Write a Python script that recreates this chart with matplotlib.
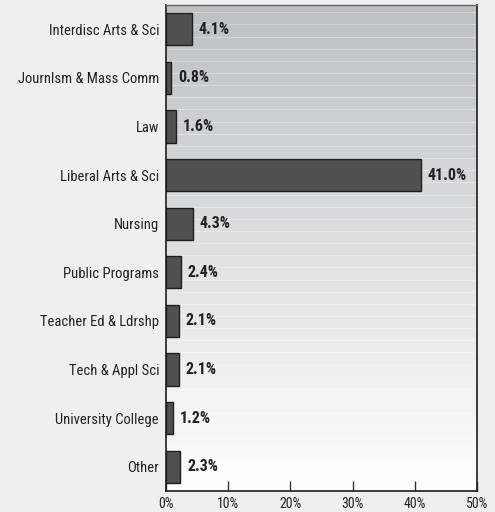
import matplotlib
matplotlib.use("Agg")
import matplotlib.pyplot as plt
import numpy as np
from matplotlib import font_manager
from matplotlib.font_manager import FontProperties
from matplotlib.colors import LinearSegmentedColormap

categories = ["Interdisc Arts & Sci", "Journlsm & Mass Comm", "Law", "Liberal Arts & Sci",
              "Nursing", "Public Programs", "Teacher Ed & Ldrshp", "Tech & Appl Sci",
              "University College", "Other"]
values = [4.1, 0.8, 1.6, 41.0, 4.3, 2.4, 2.1, 2.1, 1.2, 2.3]
xticks = [0, 10, 20, 30, 40, 50]
xticklabels = ["0%", "10%", "20%", "30%", "40%", "50%"]


def find_condensed(bold):
    cands = []
    for f in font_manager.fontManager.ttflist:
        nm = f.name.lower()
        fn = f.fname.lower()
        narrow = ("narrow" in nm or "condensed" in nm or "condensed" in fn or "narrow" in fn
                  or f.stretch in ("condensed", "semi-condensed"))
        if not narrow or "mono" in nm or "serif" in nm and "sans" not in nm:
            continue
        if "italic" in fn or "oblique" in fn or f.style != "normal":
            continue
        w = f.weight if isinstance(f.weight, int) else (700 if "bold" in str(f.weight) else 400)
        if bold != (w >= 600):
            continue
        if "light" in fn or "thin" in fn or "black" in fn or "extra" in fn or "semi" in fn or "medium" in fn:
            continue
        pri = 3
        if "liberation" in nm or "arial" in nm or "helvet" in nm:
            pri = 0
        elif "roboto" in nm:
            pri = 1
        elif "dejavu" in nm:
            pri = 2
        cands.append((pri, f.fname))
    cands.sort()
    return cands[0][1] if cands else None


reg = find_condensed(False)
bld = find_condensed(True)
if reg:
    fp_reg = FontProperties(fname=reg, size=10.5)
    fp_tick = FontProperties(fname=reg, size=10)
else:
    fp_reg = FontProperties(family="Liberation Sans", size=9.2)
    fp_tick = FontProperties(family="Liberation Sans", size=9)
if bld:
    fp_bold = FontProperties(fname=bld, size=11.5)
else:
    fp_bold = FontProperties(family="Liberation Sans", weight="bold", size=10)

fig = plt.figure(figsize=(4.95, 5.12), dpi=100, facecolor="#efefef")
ax = fig.add_axes([166/495, 1-491/512, (477-166)/495, (491-5)/512])

n = len(categories)
ax.set_xlim(0, 50)
ax.set_ylim(n - 0.5, -0.5)

grad = np.linspace(0, 1, 256).reshape(-1, 1)
cmap = LinearSegmentedColormap.from_list("bg", ["#bfc0c2", "#ffffff"])
ax.imshow(grad, aspect="auto", cmap=cmap, extent=[0, 50, n - 0.5, -0.5], zorder=0)
for y in np.arange(-0.5 + 0.15, n - 0.5, 0.25):
    ax.axhline(y, color="white", lw=0.8, alpha=0.3, zorder=1)

ypos = np.arange(n)
ax.barh(ypos, values, height=0.66, color="#505050", edgecolor="#1e1e1e", linewidth=1.0, zorder=3)
for y, v in zip(ypos, values):
    ax.text(v + 1.1, y, f"{v:.1f}%", va="center", ha="left", fontproperties=fp_bold,
            color="#222222", zorder=4)

ax.set_yticks(ypos)
ax.set_yticklabels(categories, fontproperties=fp_reg, color="#222222")
ax.tick_params(axis="y", length=0, pad=5)
ax.set_xticks(xticks)
ax.set_xticklabels(xticklabels, fontproperties=fp_tick, color="#222222")
ax.tick_params(axis="x", direction="in", length=7, width=1, color="#333333", pad=4)

for s in ["left", "right", "bottom"]:
    ax.spines[s].set_color("#1e1e1e")
    ax.spines[s].set_linewidth(1.2)
ax.spines["top"].set_color("#666666")
ax.spines["top"].set_linewidth(1.0)

fig.savefig("out.png", dpi=100, facecolor=fig.get_facecolor())
